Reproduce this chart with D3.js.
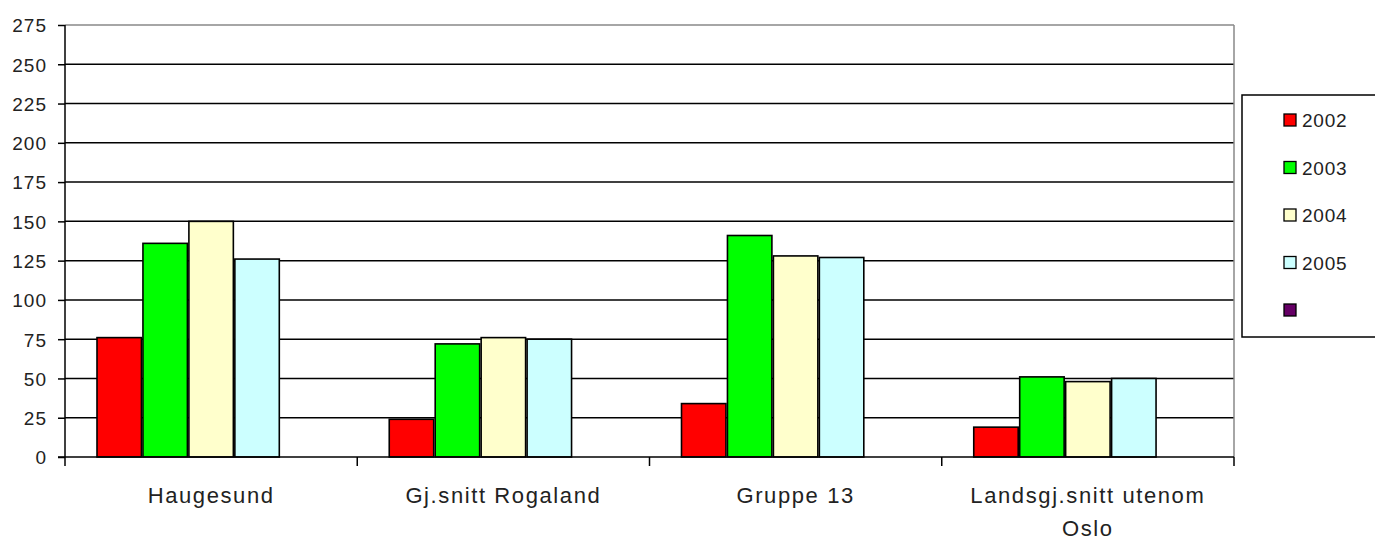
<!DOCTYPE html>
<html><head><meta charset="utf-8">
<script src="https://cdn.jsdelivr.net/npm/d3@7"></script>
<style>body{margin:0;background:#fff;} svg{display:block;font-family:"Liberation Sans",Arial,sans-serif;}</style>
</head><body>
<svg id="c" width="1375" height="540"></svg>
<script>
const categories = ["Haugesund", "Gj.snitt Rogaland", "Gruppe 13", "Landsgj.snitt utenom Oslo"];
const seriesNames = ["2002", "2003", "2004", "2005", ""];
const seriesColors = ["#ff0000", "#00ff00", "#ffffcc", "#ccffff", "#660066"];
const v2002 = [76, 24, 34, 19];
const v2003 = [136, 72, 141, 51];
const v2004 = [150, 76, 128, 48];
const v2005 = [126, 75, 127, 50];
const vEmpty = [];
const values = [v2002, v2003, v2004, v2005, vEmpty];
const yTicks = [0, 25, 50, 75, 100, 125, 150, 175, 200, 225, 250, 275];

const svg = d3.select("#c");
const L = 65, R = 1234, T = 25, B = 457;
const FONT = "Liberation Sans, Arial, sans-serif";
const x = d3.scaleBand().domain(categories).range([L, R]).paddingInner(0).paddingOuter(0);
const y = d3.scaleLinear().domain([0, 275]).range([B, T]);
const inner = d3.scaleBand().domain(d3.range(seriesNames.length)).range([0, x.bandwidth()]).paddingOuter(0.68).paddingInner(0);

// gridlines
svg.append("g").selectAll("line").data(yTicks.filter(d => d > 0)).join("line")
  .attr("x1", L).attr("x2", R).attr("y1", d => y(d)).attr("y2", d => y(d))
  .attr("stroke", d => d === 275 ? "#888" : "#000").attr("stroke-width", 1.5);
// right border
svg.append("line").attr("x1", R).attr("x2", R).attr("y1", T).attr("y2", B).attr("stroke", "#888").attr("stroke-width", 1.5);

// bars
values.forEach((vals, si) => {
  svg.append("g").selectAll("rect").data(vals).join("rect")
    .attr("x", (d, i) => x(categories[i]) + inner(si) + 0.75)
    .attr("width", inner.bandwidth() - 1.5)
    .attr("y", d => y(d))
    .attr("height", d => B - y(d))
    .attr("fill", seriesColors[si])
    .attr("stroke", "#000").attr("stroke-width", 1.6);
});

// y axis
const ya = svg.append("g").attr("transform", `translate(${L},0)`)
  .call(d3.axisLeft(y).tickValues(yTicks).tickSize(7).tickPadding(11).tickFormat(d3.format("d")));
ya.select(".domain").attr("stroke", "#000").attr("stroke-width", 1.5).attr("d", `M0,${T}V${B}`);
ya.selectAll(".tick line").attr("stroke", "#000").attr("stroke-width", 1.5);
ya.selectAll(".tick text").attr("font-size", 19).attr("letter-spacing", 1).attr("fill", "#222").attr("font-family", FONT)
  .attr("dy", "0.36em");

// x axis
const xa = svg.append("g").attr("transform", `translate(0,${B})`);
xa.append("line").attr("x1", L - 7).attr("x2", R).attr("y1", 0).attr("y2", 0).attr("stroke", "#000").attr("stroke-width", 1.5);
const bounds = [L].concat(categories.map(c => x(c) + x.bandwidth()));
xa.selectAll("line.t").data(bounds).join("line").attr("class", "t")
  .attr("x1", d => d).attr("x2", d => d).attr("y1", 0).attr("y2", 9)
  .attr("stroke", "#000").attr("stroke-width", 1.5);
const labelLines = [["Haugesund"], ["Gj.snitt Rogaland"], ["Gruppe 13"], ["Landsgj.snitt utenom", "Oslo"]];
categories.forEach((c, i) => {
  const cx = x(c) + x.bandwidth() / 2;
  const t = xa.append("text").attr("x", cx).attr("y", 46)
    .attr("text-anchor", "middle").attr("font-size", 22).attr("letter-spacing", 1.6).attr("fill", "#222").attr("font-family", FONT);
  labelLines[i].forEach((ln, j) => t.append("tspan").attr("x", cx).attr("dy", j === 0 ? 0 : 33).text(ln));
});

// legend
const lg = svg.append("g");
lg.append("rect").attr("x", 1242).attr("y", 95).attr("width", 140).attr("height", 242)
  .attr("fill", "#fff").attr("stroke", "#000").attr("stroke-width", 1.5);
seriesNames.forEach((n, i) => {
  const cy = 120 + i * 47.5;
  lg.append("rect").attr("x", 1284).attr("y", cy - 6).attr("width", 12).attr("height", 12)
    .attr("fill", seriesColors[i]).attr("stroke", "#000").attr("stroke-width", 1.3);
  lg.append("text").attr("x", 1302).attr("y", cy + 7).attr("font-size", 19).attr("letter-spacing", 0.8)
    .attr("fill", "#222").attr("font-family", FONT).text(n);
});
</script>
</body></html>
